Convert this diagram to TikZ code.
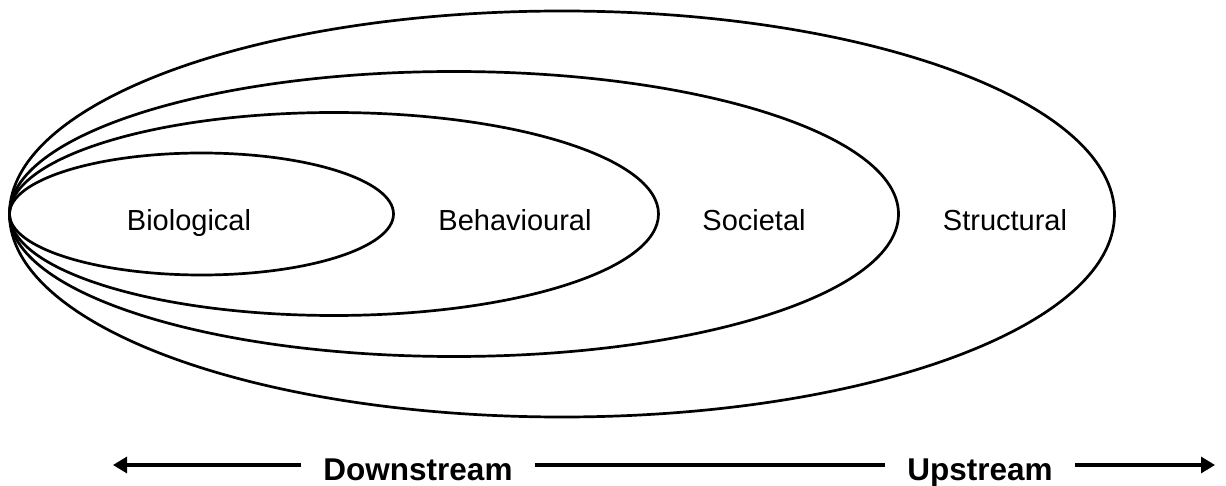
\documentclass[tikz,border=0pt]{standalone}
\usepackage{fontspec}
\setmainfont{Liberation Sans}
\usetikzlibrary{arrows.meta}

\tikzset{
  ring/.style={line width=2.7pt, black},
  level/.style={anchor=base, font=\fontsize{29}{34}\selectfont},
  flow/.style={font=\bfseries\fontsize{31.5}{36}\selectfont, text height=30pt, text depth=0pt, inner xsep=22pt},
  arr/.style={line width=3.2pt, -{Triangle[length=14pt,width=16pt]}}
}

\begin{document}
\begin{tikzpicture}[x=1pt, y=-1pt]
  \useasboundingbox (0,0) rectangle (1226,486);

  % Nested ellipses, all touching at the left
  \foreach \cx/\rx/\ry in {201.5/192/61, 334/324.5/101.5, 454/444.5/142.5, 562/552.5/203}
  {
    \draw[ring] (\cx,214) ellipse ({\rx pt} and {\ry pt});
  }

  % Level labels
  \node[level] (bio) at (189,231) {Biological};
  \node[level] (beh) at (515,231) {Behavioural};
  \node[level] (soc) at (754,231) {Societal};
  \node[level] (str) at (1005,231) {Structural};

  % Downstream / upstream axis
  \node[flow] (dn) at (418,465) {Downstream};
  \node[flow] (up) at (980,465) {Upstream};
  \coordinate (ltip) at (113,465);
  \coordinate (rtip) at (1215,465);

  \draw[arr] (dn.west) -- (ltip);
  \draw[line width=3.2pt] (dn.east) -- (up.west);
  \draw[arr] (up.east) -- (rtip);
\end{tikzpicture}
\end{document}
